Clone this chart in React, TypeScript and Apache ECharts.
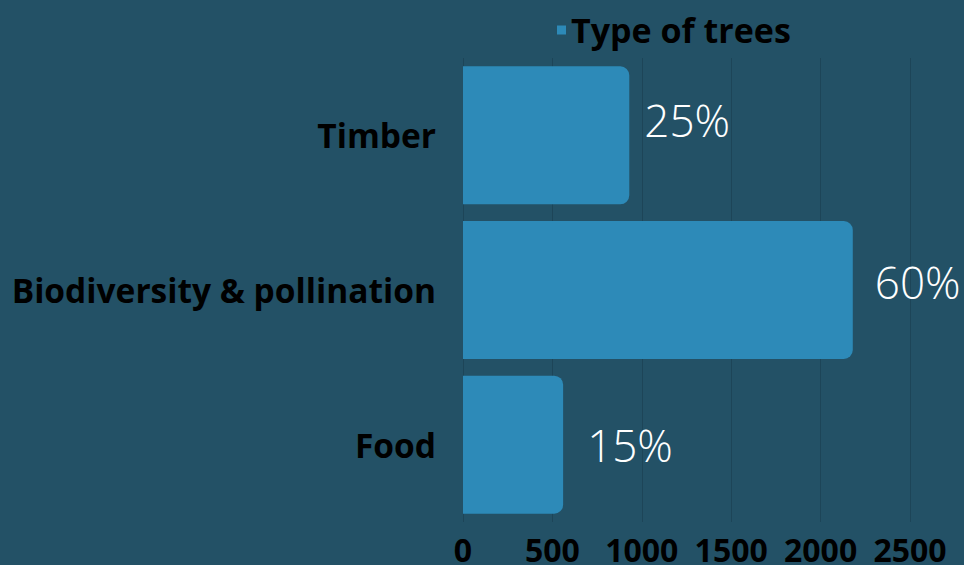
import React, { useEffect, useRef } from "react";
import * as echarts from "echarts";

const categories = ["Food", "Biodiversity & pollination", "Timber"];
const values = [560, 2180, 930];
const percentLabels = ["15%", "60%", "25%"];
const seriesName = "Type of trees";
const xTicks = { min: 0, max: 2500, interval: 500 };
// label placement tweaks (style only)
const labelOffsets = [
  [6, 0],
  [4, -8],
  [-3, -15],
];

export default function App() {
  const ref = useRef<HTMLDivElement>(null);
  useEffect(() => {
    if (!ref.current) return;
    const chart = echarts.init(ref.current, undefined, { renderer: "svg" });
    chart.setOption({
      animation: false,
      backgroundColor: "#235166",
      legend: {
        data: [seriesName],
        top: 8,
        left: 552,
        icon: "rect",
        itemWidth: 9,
        itemHeight: 9,
        itemGap: 10,
        textStyle: { color: "#000", fontSize: 34, fontWeight: "bold", fontFamily: "Open Sans" },
      },
      grid: { left: 463, right: 54, top: 58, height: 464, outerBoundsMode: "none" },
      xAxis: {
        type: "value",
        min: xTicks.min,
        max: xTicks.max,
        interval: xTicks.interval,
        axisLine: { show: false },
        axisTick: { show: false },
        splitLine: { show: true, lineStyle: { color: "#1d4558", width: 1 } },
        axisLabel: {
          color: "#000",
          fontSize: 32,
          fontWeight: "bold",
          fontFamily: "Open Sans",
          margin: 11,
          formatter: (v: number) => String(v),
        },
      },
      yAxis: {
        type: "category",
        data: categories,
        axisLine: { show: false },
        axisTick: { show: false },
        axisLabel: { color: "#000", fontSize: 33.5, fontWeight: "bold", fontFamily: "Open Sans", margin: 27 },
      },
      series: [
        {
          name: seriesName,
          type: "bar",
          data: values.map((v, i) => ({
            value: v,
            label: { offset: labelOffsets[i] },
          })),
          barWidth: 138,
          itemStyle: { color: "#2d8ab8", borderRadius: [0, 9, 9, 0] },
          label: {
            show: true,
            position: "right",
            distance: 18,
            color: "#fff",
            fontSize: 44,
            fontWeight: 300,
            fontFamily: "Open Sans",
            formatter: (p: any) => percentLabels[p.dataIndex],
          },
        },
      ],
    });
    return () => chart.dispose();
  }, []);
  return <div ref={ref} style={{ width: 964, height: 565, position: "absolute", left: 0, top: 0 }} />;
}
